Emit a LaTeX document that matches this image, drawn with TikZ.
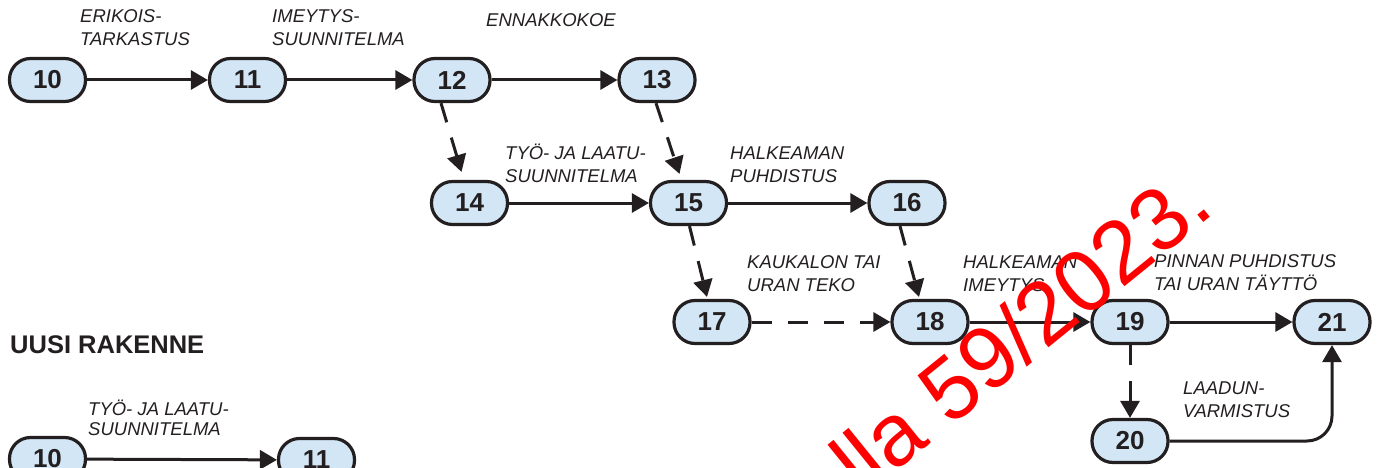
\documentclass[tikz,border=0pt]{standalone}
\usepackage{fontspec}
\setmainfont{Liberation Sans}
\usetikzlibrary{arrows.meta,calc}
\definecolor{nodefill}{HTML}{D3E6F5}
\definecolor{ink}{HTML}{231F20}
\definecolor{wm}{HTML}{FF0000}
\tikzset{
  evt/.style={draw=ink, fill=nodefill, line width=3.2pt, rounded corners=21pt,
    minimum width=76pt, minimum height=43pt, inner sep=0pt,
    font=\fontsize{26}{26}\selectfont\bfseries, text=ink},
  act/.style={anchor=base west, align=left, inner sep=0pt, text=ink,
    font=\fontsize{18.5}{23}\selectfont\itshape},
  conn/.style={draw=ink, line width=3pt, -{Triangle[length=17pt,width=19pt]}},
  dconn/.style={conn, dash pattern=on 20pt off 16pt},
}
\begin{document}
\begin{tikzpicture}[x=1pt,y=-1pt]
\useasboundingbox (0,0) rectangle (1380,468);
% nodes
\node[evt] (n10) at (47.5,80) {10};
\node[evt] (n11) at (247.5,80) {11};
\node[evt] (n12) at (452,80) {12};
\node[evt] (n13) at (657,80) {13};
\node[evt] (n14) at (469.5,203) {14};
\node[evt] (n15) at (688.5,203) {15};
\node[evt] (n16) at (907,203) {16};
\node[evt] (n17) at (712,322) {17};
\node[evt] (n18) at (930,322) {18};
\node[evt] (n19) at (1130,322) {19};
\node[evt] (n21) at (1332,322) {21};
\node[evt] (n20) at (1130,441) {20};
\node[evt] (m10) at (47.5,459) {10};
\node[evt] (m11) at (316.5,460) {11};
% connectors
\draw[conn] (n10) -- (n11);
\draw[conn] (n11) -- (n12);
\draw[conn] (n12) -- (n13);
\draw[dconn] ($(n12.south)+(-11,0)$) -- ($(n14.north)+(-8,-8)$);
\draw[dconn] ($(n13.south)+(-1,0)$) -- ($(n15.north)+(-9,-6)$);
\draw[conn] (n14) -- (n15);
\draw[conn] (n15) -- (n16);
\draw[dconn] ($(n15.south)+(1,0)$) -- ($(n17.north)+(-5,-2)$);
\draw[dconn] ($(n16.south)+(-7,0)$) -- ($(n18.north)+(-11,-2)$);
\draw[dconn] (n17) -- (n18);
\draw[conn] (n18) -- (n19);
\draw[conn] (n19) -- (n21);
\draw[dconn] (n19) -- (n20);
\draw[conn, rounded corners=25pt] (n20.east) -- (n20.east -| n21.south) -- (n21.south);
\draw[conn] (m10) -- (m11);
% activity labels (anchored at the baseline of their last line)
\node[act] (l1) at (80,46) {ERIKOIS-\\TARKASTUS};
\node[act] (l2) at (272,46) {IMEYTYS-\\SUUNNITELMA};
\node[act] (l3) at (486,27) {ENNAKKOKOE};
\node[act] (l4) at (505,182) {TYÖ- JA LAATU-\\SUUNNITELMA};
\node[act] (l5) at (730,182) {HALKEAMAN\\PUHDISTUS};
\node[act] (l6) at (747,291) {KAUKALON TAI\\URAN TEKO};
\node[act] (l7) at (963,291) {HALKEAMAN\\IMEYTYS};
\node[act] (l8) at (1154,290) {PINNAN PUHDISTUS\\TAI URAN TÄYTTÖ};
\node[act] (l9) at (1183,417) {LAADUN-\\VARMISTUS};
\node[act, font=\fontsize{18.5}{20}\selectfont\itshape] (l10) at (88,435) {TYÖ- JA LAATU-\\SUUNNITELMA};
\node[anchor=base west, inner sep=0pt, text=ink, font=\fontsize{25.5}{26}\selectfont\bfseries] (title) at (10,353) {UUSI RAKENNE};
% watermark
\node[anchor=base east, rotate=39, inner sep=0pt, text=wm, font=\fontsize{88}{88}\selectfont] (wmk) at (1217,212) {ella 59/2023.};
\end{tikzpicture}
\end{document}
